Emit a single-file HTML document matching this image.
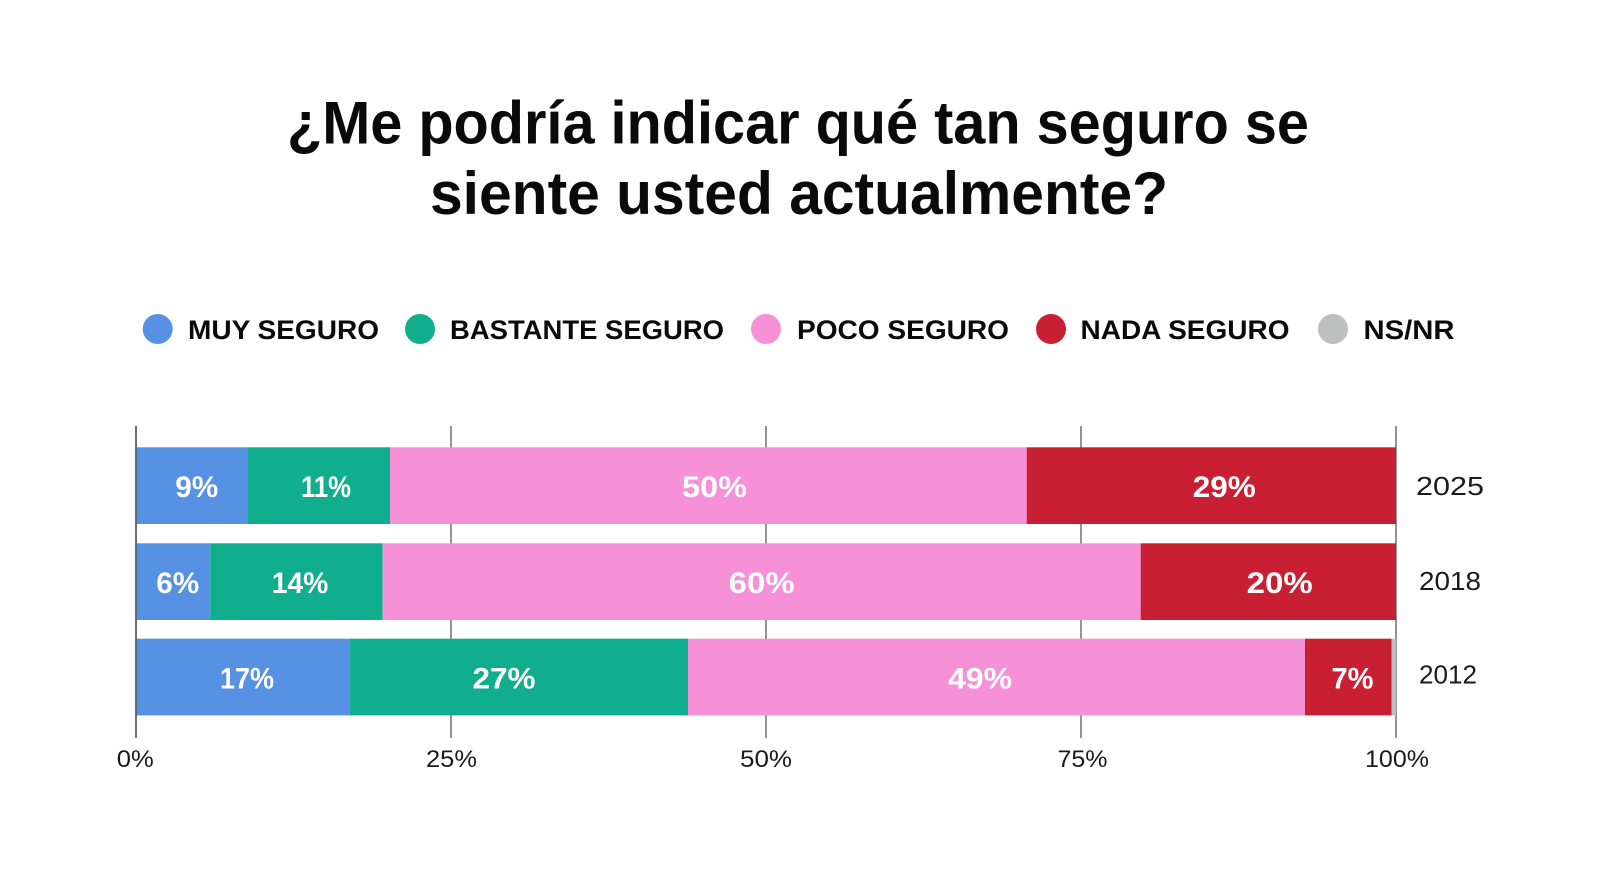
<!DOCTYPE html>
<html>
<head>
<meta charset="utf-8">
<style>
  html, body { margin: 0; padding: 0; background: #ffffff; }
  body { width: 1600px; height: 893px; overflow: hidden; }
  svg { display: block; }
  .title { font-family: "Liberation Sans", sans-serif; font-weight: 700; font-size: 60px; fill: #0a0a0a; }
  .leg { font-family: "Liberation Sans", sans-serif; font-weight: 700; font-size: 27px; fill: #0a0a0a; }
  .lab { font-family: "Liberation Sans", sans-serif; font-weight: 700; font-size: 30px; fill: #ffffff; }
  .yr { font-family: "Liberation Sans", sans-serif; font-weight: 400; font-size: 26px; fill: #1a1a1a; }
  .tick { font-family: "Liberation Sans", sans-serif; font-weight: 400; font-size: 24px; fill: #1a1a1a; }
</style>
</head>
<body>
<svg width="1600" height="893" viewBox="0 0 1600 893" xmlns="http://www.w3.org/2000/svg">
  <rect x="0" y="0" width="1600" height="893" fill="#ffffff"/>

  <!-- Title -->
  <text class="title" x="287" y="143.5" textLength="1022" lengthAdjust="spacingAndGlyphs">¿Me podría indicar qué tan seguro se</text>
  <text class="title" x="430" y="214" textLength="738" lengthAdjust="spacingAndGlyphs">siente usted actualmente?</text>

  <!-- Legend -->
  <circle cx="157.7" cy="329" r="15" fill="#5691E3"/>
  <text class="leg" x="188" y="339" textLength="191" lengthAdjust="spacingAndGlyphs">MUY SEGURO</text>
  <circle cx="420" cy="329" r="15" fill="#10AE8D"/>
  <text class="leg" x="450" y="339" textLength="274" lengthAdjust="spacingAndGlyphs">BASTANTE SEGURO</text>
  <circle cx="766" cy="329" r="15" fill="#F691D8"/>
  <text class="leg" x="797" y="339" textLength="212" lengthAdjust="spacingAndGlyphs">POCO SEGURO</text>
  <circle cx="1051" cy="329" r="15" fill="#C91F32"/>
  <text class="leg" x="1080.5" y="339" textLength="209" lengthAdjust="spacingAndGlyphs">NADA SEGURO</text>
  <circle cx="1333" cy="329" r="15" fill="#BCC1C0"/>
  <text class="leg" x="1363.5" y="339" textLength="91" lengthAdjust="spacingAndGlyphs">NS/NR</text>

  <!-- Gridlines -->
  <g stroke="#707070" stroke-width="1.5">
    <line x1="136" y1="426" x2="136" y2="738"/>
    <line x1="451" y1="426" x2="451" y2="738"/>
    <line x1="766" y1="426" x2="766" y2="738"/>
    <line x1="1081" y1="426" x2="1081" y2="738"/>
    <line x1="1396" y1="426" x2="1396" y2="738"/>
  </g>

  <!-- Bar 2025 -->
  <rect x="136" y="447.3" width="112" height="76.7" fill="#5691E3"/>
  <rect x="248" y="447.3" width="142" height="76.7" fill="#10AE8D"/>
  <rect x="390" y="447.3" width="636.7" height="76.7" fill="#F691D8"/>
  <rect x="1026.7" y="447.3" width="369.3" height="76.7" fill="#C91F32"/>

  <!-- Bar 2018 -->
  <rect x="136" y="543.3" width="74.3" height="76.7" fill="#5691E3"/>
  <rect x="210.3" y="543.3" width="172.4" height="76.7" fill="#10AE8D"/>
  <rect x="382.7" y="543.3" width="758" height="76.7" fill="#F691D8"/>
  <rect x="1140.7" y="543.3" width="255.3" height="76.7" fill="#C91F32"/>

  <!-- Bar 2012 -->
  <rect x="136" y="638.7" width="213.3" height="76.7" fill="#5691E3"/>
  <rect x="349.3" y="638.7" width="338.7" height="76.7" fill="#10AE8D"/>
  <rect x="688" y="638.7" width="617" height="76.7" fill="#F691D8"/>
  <rect x="1305" y="638.7" width="86.7" height="76.7" fill="#C91F32"/>
  <rect x="1391.7" y="638.7" width="4.3" height="76.7" fill="#BCC1C0"/>

  <!-- left axis over bars -->
  <line x1="136" y1="426" x2="136" y2="738" stroke="#555555" stroke-width="1.5"/>

  <!-- Bar labels -->
  <g text-anchor="middle">
    <text class="lab" x="196.7" y="497" textLength="43" lengthAdjust="spacingAndGlyphs">9%</text>
    <text class="lab" x="326" y="497" textLength="50" lengthAdjust="spacingAndGlyphs">11%</text>
    <text class="lab" x="714.5" y="497" textLength="65" lengthAdjust="spacingAndGlyphs">50%</text>
    <text class="lab" x="1224.3" y="497" textLength="63" lengthAdjust="spacingAndGlyphs">29%</text>

    <text class="lab" x="177.7" y="593" textLength="43" lengthAdjust="spacingAndGlyphs">6%</text>
    <text class="lab" x="300" y="593" textLength="56.6" lengthAdjust="spacingAndGlyphs">14%</text>
    <text class="lab" x="761.7" y="593" textLength="66" lengthAdjust="spacingAndGlyphs">60%</text>
    <text class="lab" x="1279.7" y="593" textLength="66" lengthAdjust="spacingAndGlyphs">20%</text>

    <text class="lab" x="247" y="688.5" textLength="54" lengthAdjust="spacingAndGlyphs">17%</text>
    <text class="lab" x="504" y="688.5" textLength="63" lengthAdjust="spacingAndGlyphs">27%</text>
    <text class="lab" x="980" y="688.5" textLength="64" lengthAdjust="spacingAndGlyphs">49%</text>
    <text class="lab" x="1352.5" y="688.5" textLength="42" lengthAdjust="spacingAndGlyphs">7%</text>
  </g>

  <!-- Year labels -->
  <text class="yr" x="1416" y="495" textLength="68" lengthAdjust="spacingAndGlyphs">2025</text>
  <text class="yr" x="1419" y="590" textLength="62" lengthAdjust="spacingAndGlyphs">2018</text>
  <text class="yr" x="1419" y="683.5" textLength="58" lengthAdjust="spacingAndGlyphs">2012</text>

  <!-- Tick labels -->
  <g text-anchor="middle">
    <text class="tick" x="135.3" y="767" textLength="37" lengthAdjust="spacingAndGlyphs">0%</text>
    <text class="tick" x="451.5" y="767" textLength="51" lengthAdjust="spacingAndGlyphs">25%</text>
    <text class="tick" x="766" y="767" textLength="52" lengthAdjust="spacingAndGlyphs">50%</text>
    <text class="tick" x="1082.5" y="767" textLength="50" lengthAdjust="spacingAndGlyphs">75%</text>
    <text class="tick" x="1397" y="767" textLength="64" lengthAdjust="spacingAndGlyphs">100%</text>
  </g>
</svg>
</body>
</html>
